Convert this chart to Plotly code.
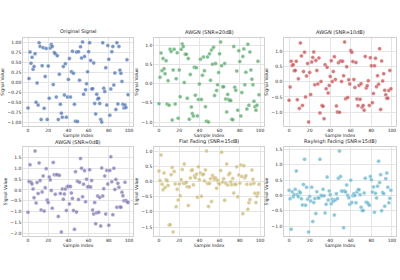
import plotly.graph_objects as go

sample_index = list(range(100))

original = [-0.64, 0.09, 0.75, 0.47, 0.62, 0.32, 0.39, 0.71, -0.50, -0.02,
            -0.57, 0.98, 0.89, -0.93, 0.41, 0.86, -0.65, 0.14, 0.84, -0.93,
            0.40, -0.40, 0.85, 0.94, 0.89, -0.06, 0.74, 0.71, -0.37, 0.66,
            -0.93, 0.20, -0.55, -0.77, -0.87, 0.39, -0.32, 0.46, -0.87, -0.37,
            0.07, 0.59, -0.37, 0.26, 0.77, 0.22, -0.55, -0.97, 0.75, -0.98,
            0.76, 0.05, 0.88, 0.60, 1.00, -0.30, 0.64, -0.19, -0.04, 0.26,
            0.76, 0.98, 0.54, -0.17, -0.16, 0.48, -0.53, -0.79, -0.30, -0.42,
            -0.40, -0.53, -0.93, -0.99, 0.98, -0.15, -0.23, 0.36, -0.57, 0.91,
            0.57, -0.82, -0.17, 0.76, 0.89, -0.07, 0.23, -0.68, 0.98, -0.54,
            0.89, 0.30, 0.22, 0.02, -0.55, -0.64, -0.57, -0.63, 0.56, -0.31]

awgn_20 = [-0.52, 0.17, 0.80, 0.34, 0.66, 0.39, 0.26, 0.60, -0.53, 0.08,
           -0.56, 0.90, 0.84, -0.95, 0.36, 0.90, -0.53, 0.13, 0.81, -0.90,
           0.36, -0.34, 0.90, 1.04, 0.97, 0.03, 0.77, 0.77, -0.38, 0.66,
           -0.93, 0.24, -0.61, -0.78, -0.84, 0.43, -0.30, 0.42, -0.84, -0.41,
           -0.01, 0.64, -0.41, 0.22, 0.70, 0.34, -0.60, -0.98, 0.70, -1.00,
           0.78, 0.09, 0.88, 0.51, 0.95, -0.31, 0.53, -0.18, -0.03, 0.29,
           0.78, 1.09, 0.47, -0.08, -0.08, 0.53, -0.40, -0.74, -0.28, -0.41,
           -0.44, -0.44, -0.93, -0.94, 0.97, -0.09, -0.17, 0.33, -0.69, 0.86,
           0.58, -0.84, -0.23, 0.71, 0.91, -0.03, 0.30, -0.66, 1.03, -0.56,
           0.83, 0.36, 0.12, -0.03, -0.46, -0.60, -0.69, -0.56, 0.59, -0.29]

awgn_10 = [-0.61, -0.17, 0.68, 0.54, 0.57, 0.37, 0.38, 0.68, -0.59, 0.10,
           -0.88, 1.29, 0.86, -0.78, 0.34, 0.98, -0.50, 0.19, 0.61, -1.33,
           0.31, -0.42, 0.66, 0.81, 0.99, -0.10, 0.71, 0.38, -0.07, 0.79,
           -1.03, 0.01, -0.78, -0.81, -1.22, 0.57, -0.23, 0.48, -0.37, -0.12,
           0.18, 0.70, 0.01, 0.34, 0.83, 0.08, -0.80, -1.00, 0.63, -1.01,
           0.69, 0.01, 0.68, 0.20, 1.32, -0.56, 0.50, -0.52, 0.07, -0.07,
           1.04, 0.98, 0.67, 0.08, -0.19, 0.64, -0.57, -0.79, -0.12, -0.58,
           -0.06, -0.84, -0.78, -0.94, 0.84, -0.20, -0.13, 0.04, -0.78, 0.80,
           0.53, -0.69, -0.39, 0.53, 0.78, -0.16, 0.20, -0.08, 1.10, -0.92,
           0.69, 0.03, 0.27, -0.28, -0.43, -0.54, -0.54, -0.29, 0.38, -0.23]

awgn_0 = [-1.04, 0.39, 1.17, 0.36, 0.28, 0.05, -0.36, 1.81, -0.60, 0.35,
          -0.16, 1.26, 0.44, -0.93, -0.09, 0.65, -0.98, 0.11, 0.99, -0.47,
          -0.58, 0.60, 0.47, -0.02, -0.85, 1.28, 0.71, -0.20, 0.71, 0.71,
          -1.23, 0.68, -0.16, -1.95, 0.05, -0.43, -0.19, 0.05, -0.95, 0.16,
          0.16, -0.65, 0.16, -0.14, -0.39, -0.95, -1.83, 0.85, -1.02, 0.41,
          -0.44, 0.36, 1.46, 1.01, -0.31, 0.27, 0.90, -0.55, 0.50, 0.14,
          0.16, 0.94, 0.14, 0.44, -0.93, -1.12, -0.58, -1.57, -1.06, -0.28,
          -1.04, -0.35, -1.67, 1.02, -0.28, 0.06, 0.65, -1.12, 0.91, 0.28,
          -1.64, 0.91, 1.54, 0.38, -1.15, 1.01, 0.02, 0.49, -0.80, 0.31,
          0.13, -0.79, -0.80, -0.11, -0.27, -0.50, 0.36, -0.49, -0.55, -0.58]

flat_fading = [0.34, 0.03, 0.87, -0.09, -0.27, 0.28, -0.20, 0.06, 0.02, -0.13,
               -1.43, -1.42, 0.22, 0.46, -1.66, 0.33, -0.08, -0.83, -0.26, -0.61,
               -0.08, -0.47, 0.06, 0.39, -0.06, 0.57, -0.06, -0.03, -0.17, -0.79,
               -0.18, 0.11, 0.36, 0.38, -0.11, 0.18, 0.12, 0.24, -0.52, 0.48,
               0.06, 0.28, -0.49, 0.22, 0.24, 0.02, 0.38, 1.00, -0.07, -0.82,
               -0.07, 0.09, -0.66, 0.20, 0.13, 0.06, 0.11, -0.22, 0.04, -0.06,
               -0.08, 0.36, 0.96, -0.02, 0.09, -0.62, -0.06, 0.57, -0.12, 0.22,
               0.27, -0.02, -0.11, 0.10, -0.38, -0.09, -0.10, 0.48, -0.50, 0.21,
               -0.06, 0.54, 0.16, -1.06, 0.52, 0.12, 0.19, -0.09, -0.91, -0.70,
               -0.60, -0.09, 0.38, 0.07, -0.06, -0.39, -0.69, -0.48, -0.38, -0.09]

rayleigh_fading = [0.17, -0.11, -1.10, 0.12, -0.04, 0.03, 0.20, 0.80, 0.02, -0.04,
                   0.13, 0.09, -0.11, -0.31, 0.36, 1.18, -0.32, 0.27, -0.12, -1.19,
                   -0.03, -0.18, 0.27, -0.85, -0.23, -0.10, -0.59, 0.12, -0.08, -0.08,
                   1.18, 0.00, -0.01, 0.20, -0.01, -0.57, -0.29, 0.60, -0.15, 0.15,
                   0.02, -0.27, -0.12, -0.19, -0.64, -0.15, 0.06, -0.10, 0.56, 1.45,
                   0.62, 0.15, 0.14, -1.05, 0.15, 0.11, 0.34, 0.01, -0.07, -0.29,
                   0.50, -0.23, -0.01, 0.06, 0.00, -0.24, 0.11, 0.19, 0.19, 0.02,
                   -0.38, -0.49, -0.49, 0.08, 0.56, -0.22, -0.24, -0.27, -0.32, 0.62,
                   0.51, 0.11, 0.28, -0.55, 0.07, -0.08, 0.30, 1.12, 0.42, 0.68,
                   -0.50, 0.10, 0.06, -0.35, 0.55, 0.73, 0.27, -0.24, -0.09, 0.17]

titles = ["Original Signal", "AWGN (SNR=20dB)", "AWGN (SNR=10dB)",
          "AWGN (SNR=0dB)", "Flat Fading (SNR=15dB)", "Rayleigh Fading (SNR=15dB)"]
series = [original, awgn_20, awgn_10, awgn_0, flat_fading, rayleigh_fading]
colors = ["#4C72B0", "#55A868", "#C44E52", "#8172B2", "#CCB974", "#64B5CD"]
ytick_sets = [
    [-1.0, -0.75, -0.5, -0.25, 0.0, 0.25, 0.5, 0.75, 1.0],
    [-1.0, -0.5, 0.0, 0.5, 1.0],
    [-1.0, -0.5, 0.0, 0.5, 1.0],
    [-2.0, -1.5, -1.0, -0.5, 0.0, 0.5, 1.0, 1.5, 2.0],
    [-1.5, -1.0, -0.5, 0.0, 0.5, 1.0],
    [-1.0, -0.5, 0.0, 0.5, 1.0, 1.5],
]
ytick_formats = [".2f", ".1f", ".1f", ".1f", ".1f", ".1f"]
xticks = [0, 20, 40, 60, 80, 100]

W, H = 400, 280
col_px = [(23, 133), (154, 264), (284, 396)]
row_px = [(38, 126), (147, 236)]

fig = go.Figure()
font = dict(family="DejaVu Sans", size=4.5, color="#262626")
layout = dict(
    width=W, height=H, margin=dict(l=0, r=0, t=0, b=0),
    paper_bgcolor="white", plot_bgcolor="white", showlegend=False,
    font=font, annotations=[],
)

for k in range(6):
    r, c = divmod(k, 3)
    ax = "" if k == 0 else str(k + 1)
    vals = series[k]
    fig.add_trace(go.Scatter(
        x=sample_index, y=vals, mode="markers",
        xaxis="x" + ax, yaxis="y" + ax,
        marker=dict(size=4, color=colors[k], opacity=0.75,
                    line=dict(width=0.4, color="white")),
    ))
    lo, hi = min(vals), max(vals)
    span = hi - lo
    x0, x1 = col_px[c]
    y0, y1 = row_px[r]
    common = dict(showgrid=True, gridcolor="#e5e5e5", gridwidth=0.6,
                  showline=True, linecolor="#d0d0d0", linewidth=0.6, mirror=True,
                  zeroline=False, ticks="", tickfont=dict(size=4.5, color="#262626"))
    layout["xaxis" + ax] = dict(
        common, domain=[x0 / W, x1 / W], range=[-4.95, 103.95],
        tickvals=xticks, anchor="y" + ax,
        title=dict(text="Sample Index", font=dict(size=4.5), standoff=1),
    )
    layout["yaxis" + ax] = dict(
        common, domain=[1 - y1 / H, 1 - y0 / H],
        range=[lo - 0.05 * span, hi + 0.05 * span],
        tickvals=ytick_sets[k], tickformat=ytick_formats[k], anchor="x" + ax,
        title=dict(text="Signal Value", font=dict(size=4.5), standoff=2),
    )
    layout["annotations"].append(dict(
        text=titles[k], x=(x0 + x1) / 2 / W, y=1 - (y0 - 0.5) / H,
        xref="paper", yref="paper", xanchor="center", yanchor="bottom",
        showarrow=False, font=dict(size=5, color="#262626"),
    ))

fig.update_layout(**layout)
fig.write_html("out.html")
